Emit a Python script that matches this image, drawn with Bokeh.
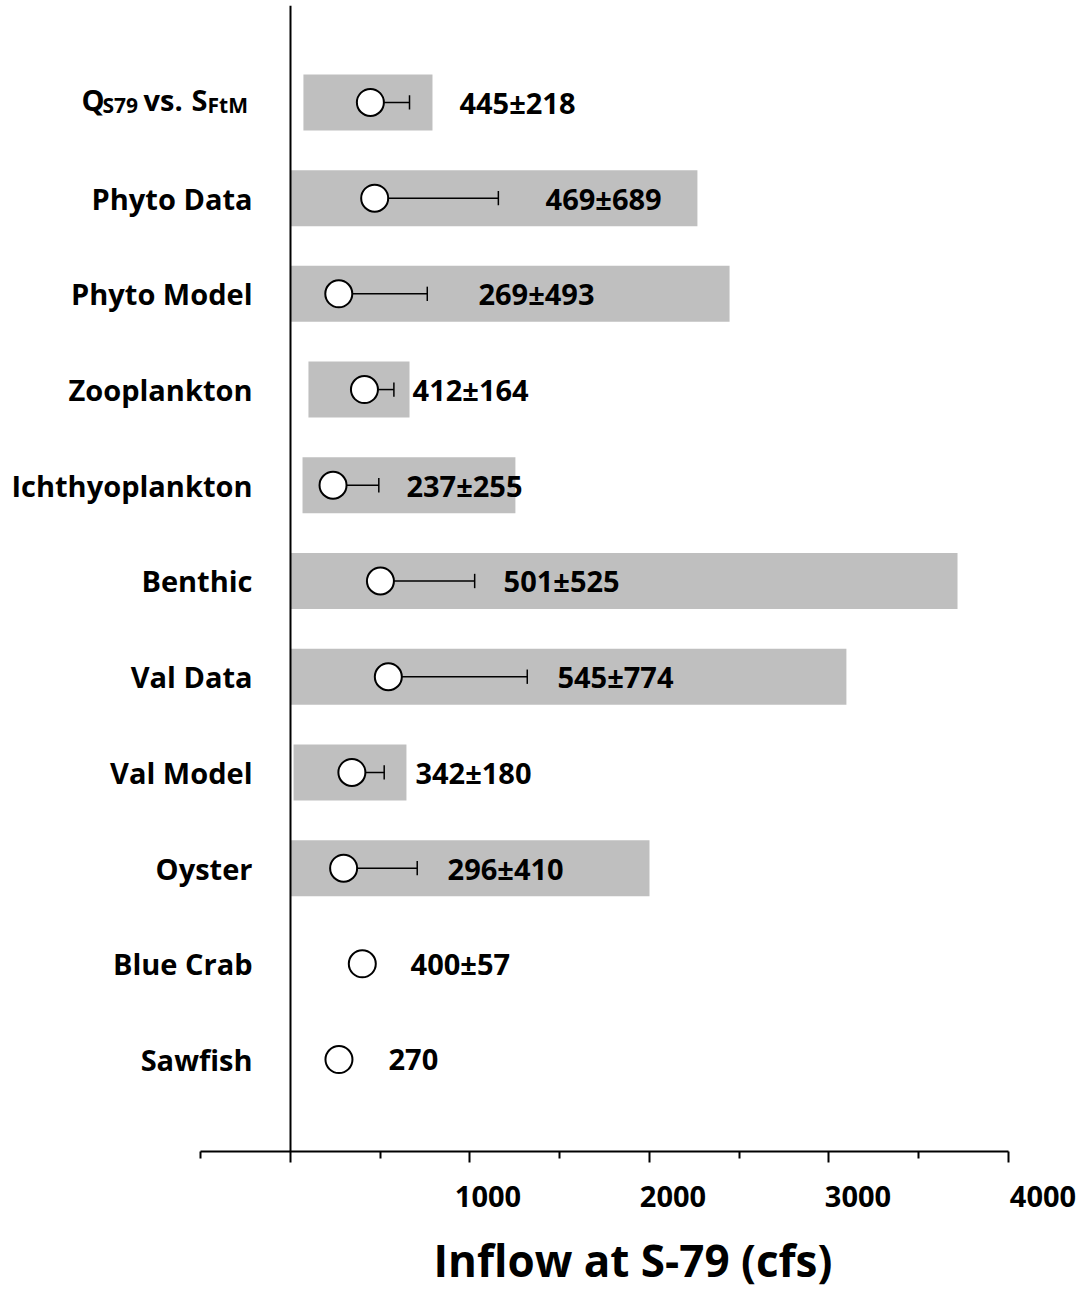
from bokeh.plotting import figure
from bokeh.models import (ColumnDataSource, FixedTicker, LinearAxis, Range1d, Span, Title,
                          CustomLabelingPolicy)
from bokeh.embed import file_html
from bokeh.resources import INLINE
from bokeh.core.properties import value

# ---------------- data ----------------
categories = ["QS79 vs. SFtM", "Phyto Data", "Phyto Model", "Zooplankton", "Ichthyoplankton",
              "Benthic", "Val Data", "Val Model", "Oyster", "Blue Crab", "Sawfish"]
means = [445, 469, 269, 412, 237, 501, 545, 342, 296, 400, 270]
sds = [218, 689, 493, 164, 255, 525, 774, 180, 410, 57, None]
range_lo = [72, 0, 0, 100, 67, 0, 0, 17, 0, None, None]
range_hi = [791, 2267, 2446, 663, 1253, 3716, 3097, 646, 2000, None, None]
label_x = [941, 1421, 1047, 680, 646, 1187, 1487, 696, 875, 669, 546]
x_major = [0, 1000, 2000, 3000, 4000]
x_minor = [-500, 500, 1500, 2500, 3500]
tick_values = [1000, 2000, 3000, 4000]
tick_labels = ["1000", "2000", "3000", "4000"]
x_title = "Inflow at S-79 (cfs)"

# first category label drawn in pieces (main text / subscripts)
q_parts = ["Q", "S79", "vs.", "S", "FtM"]
q_sub = [False, True, False, False, True]
q_offsets = [-209, -188, -147, -99, -83]   # px from the x=0 line

FONT = "Open Sans"
n = len(categories)
ys = [n - 1 - i for i in range(n)]

bar_idx = [i for i in range(n) if range_lo[i] is not None]
bar_src = ColumnDataSource(dict(
    y=[ys[i] for i in bar_idx],
    left=[range_lo[i] for i in bar_idx],
    right=[range_hi[i] for i in bar_idx],
))
err_idx = [i for i in range(n) if sds[i] is not None]
err_src = ColumnDataSource(dict(
    x0=[means[i] for i in err_idx],
    x1=[means[i] + sds[i] for i in err_idx],
    y=[ys[i] for i in err_idx],
    ylo=[ys[i] - 0.075 for i in err_idx],
    yhi=[ys[i] + 0.075 for i in err_idx],
))
pt_src = ColumnDataSource(dict(
    x=means, y=ys, lx=label_x,
    txt=[f"{means[i]}±{sds[i]}" if sds[i] is not None else f"{means[i]}" for i in range(n)],
))
cat_src = ColumnDataSource(dict(
    x=[0] * (n - 1), y=ys[1:], txt=categories[1:],
))
q_src = ColumnDataSource(dict(
    x=[0] * len(q_parts),
    y=[(ys[0] - 0.03) if s else (ys[0] + 0.03) for s in q_sub],
    txt=q_parts,
    off=q_offsets,
    size=["21px" if s else "29px" for s in q_sub],
))

p = figure(width=1083, height=1289, output_backend="svg", toolbar_location=None,
           x_range=Range1d(-1615.6, 4289.7), y_range=Range1d(-0.9603, 11.0125),
           min_border_left=0, min_border_right=23, min_border_top=5, min_border_bottom=0)
p.background_fill_color = "white"
p.border_fill_color = "white"
p.outline_line_color = None
p.grid.visible = False
p.yaxis.visible = False

# bars, error bars, circles
p.hbar(y="y", left="left", right="right", height=0.585, source=bar_src,
       fill_color="#bfbfbf", line_color=None)
p.segment(x0="x0", x1="x1", y0="y", y1="y", source=err_src, line_color="black", line_width=1.5)
p.segment(x0="x1", x1="x1", y0="ylo", y1="yhi", source=err_src, line_color="black", line_width=1.5)
p.scatter(x="x", y="y", size=27, source=pt_src, fill_color="white", line_color="black", line_width=2)
p.text(x="lx", y="y", text="txt", source=pt_src, text_font=value(FONT), text_font_size="29px",
       text_font_style="bold", text_color="black", text_baseline="middle", text_align="left")

# category labels
p.text(x="x", y="y", text="txt", source=cat_src, x_offset=-38, text_font=value(FONT),
       text_font_size="29px", text_font_style="bold", text_color="black",
       text_baseline="middle", text_align="right")
p.text(x="x", y="y", text="txt", source=q_src, x_offset="off", text_font=value(FONT),
       text_font_size="size", text_font_style="bold", text_color="black",
       text_baseline="middle", text_align="left")

# vertical axis line at 0
p.add_layout(Span(location=0, dimension="height", line_color="black", line_width=2))

# x axis: line and ticks (no labels)
xax = p.xaxis[0]
xax.ticker = FixedTicker(ticks=x_major, minor_ticks=x_minor)
xax.bounds = (-500, 4000)
xax.axis_line_color = "black"
xax.axis_line_width = 2
xax.major_tick_line_color = "black"
xax.major_tick_line_width = 2
xax.minor_tick_line_color = "black"
xax.minor_tick_line_width = 2
xax.major_tick_out = 11
xax.major_tick_in = 0
xax.minor_tick_out = 7
xax.minor_tick_in = 0
xax.major_label_text_font_size = "0px"
xax.major_label_standoff = 0
xax.major_label_policy = CustomLabelingPolicy(
    code="for (const i of Array.from(indices)) { indices.unset(i) }\nreturn indices")

# x axis: tick labels
p.extra_x_ranges = {"lab": Range1d(-1635.1, 4094.6)}
lab = LinearAxis(x_range_name="lab", ticker=FixedTicker(ticks=tick_values, minor_ticks=[]))
lab.major_label_overrides = {v: t for v, t in zip(tick_values, tick_labels)}
lab.axis_line_color = None
lab.major_tick_line_color = None
lab.minor_tick_line_color = None
lab.major_tick_out = 0
lab.major_tick_in = 0
lab.major_label_standoff = 23
lab.major_label_text_font = FONT
lab.major_label_text_font_size = "29px"
lab.major_label_text_font_style = "bold"
lab.major_label_text_color = "black"
p.add_layout(lab, "below")

# x axis title
title = Title(text=x_title, align="left", offset=433, standoff=0,
              padding=dict(left=0, right=0, top=18, bottom=0),
              text_font=FONT, text_font_size="44px", text_font_style="bold", text_color="black")
p.add_layout(title, "below")

open("out.html", "w").write(file_html(p, INLINE))
